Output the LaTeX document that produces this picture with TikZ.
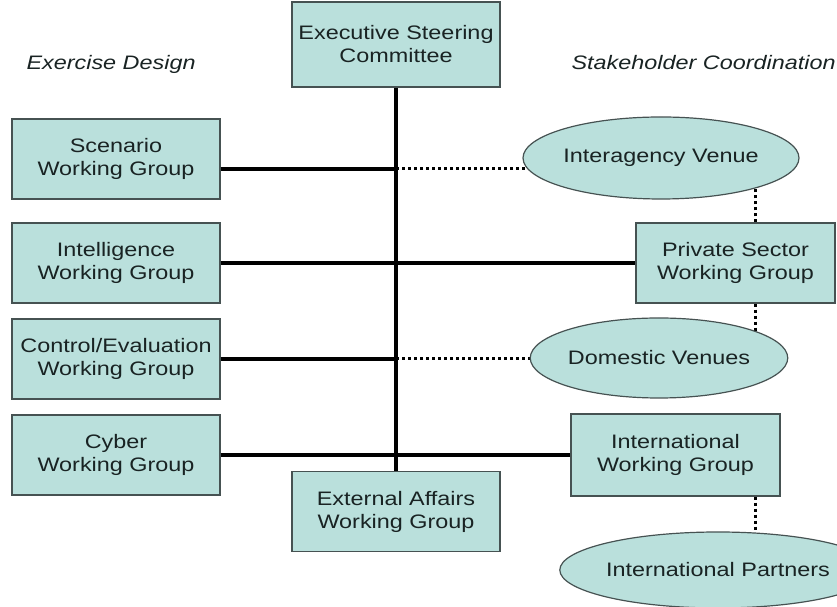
\documentclass[tikz,border=0pt]{standalone}
\usepackage{fontspec}
\setmainfont{Liberation Sans}[FakeStretch=1.2]
\usepackage{tikz}
\usetikzlibrary{shapes.geometric}
\definecolor{fundo}{RGB}{186,224,220}
\definecolor{borda}{RGB}{70,82,82}
\definecolor{texto}{RGB}{25,35,35}
\pgfdeclarelayer{fundo}
\pgfsetlayers{fundo,main}

\begin{document}
\begin{tikzpicture}[x=1pt, y=1pt,
    every node/.style={font=\fontsize{19.5}{23}\selectfont, text=texto},
    caixa/.style={draw=borda, fill=fundo, line width=1.2pt, align=center,
      minimum width=208pt, minimum height=80pt, inner sep=0pt},
    elipse/.style={ellipse, draw=borda, fill=fundo, line width=1.2pt,
      inner sep=0pt},
    linha/.style={line width=3.2pt},
    pontos/.style={line width=3pt, dash pattern=on 3pt off 3pt}]
    \useasboundingbox (0,0) rectangle (837,607);
    % títulos das colunas
    \node[anchor=base west, font=\fontsize{19.5}{23}\selectfont\itshape] (design) at (23,537) {Exercise Design};
    \node[anchor=base west, font=\fontsize{19.5}{23}\selectfont\itshape] (stake) at (568,537) {Stakeholder Coordination};
    % caixas do centro
    \node[caixa, minimum height=85pt] (exec) at (396,562.5) {Executive Steering\\Committee};
    \node[caixa] (ext) at (396,95.5) {External Affairs\\Working Group};
    % grupos da esquerda
    \node[caixa] (scen) at (116,448) {Scenario\\Working Group};
    \node[caixa] (intel) at (116,344) {Intelligence\\Working Group};
    \node[caixa] (ctrl) at (116,248) {Control/Evaluation\\Working Group};
    \node[caixa] (cyber) at (116,152) {Cyber\\Working Group};
    % grupos da direita
    \node[elipse, minimum width=244pt, minimum height=82pt] (interag) at (661,449) {Interagency Venue};
    \node[caixa, minimum width=199pt] (priv) at (735.5,344) {Private Sector\\Working Group};
    \node[elipse, minimum width=240pt, minimum height=80pt] (dom) at (659,249) {Domestic Venues};
    \node[caixa, minimum width=209pt, minimum height=82pt] (intl) at (675.5,152) {International\\Working Group};
    \node[elipse, minimum width=236pt, minimum height=76pt] (partners) at (718,37) {International Partners};
    % linha central e ligações
    \draw[linha] (exec.south) -- (ext.north);
    \coordinate (j1) at ([yshift=-10pt]scen.east -| exec.south);
    \coordinate (j3) at (ctrl.east -| exec.south);
    \draw[linha] ([yshift=-10pt]scen.east) -- (j1);
    \draw[linha] (intel.east) -- (priv.west);
    \draw[linha] (ctrl.east) -- (j3);
    \draw[linha] (cyber.east) -- (intl.west);
    % ligações pontilhadas (atrás das elipses)
    \coordinate (v1) at ([xshift=19.5pt]priv.north);
    \coordinate (v2) at ([xshift=19.5pt]priv.south);
    \coordinate (v3) at ([xshift=79.5pt]intl.south);
    \begin{pgfonlayer}{fundo}
      \draw[pontos] (j1) -- (j1 -| interag.center);
      \draw[pontos] (j3) -- (j3 -| dom.center);
      \draw[pontos] (v1) -- (v1 |- interag.center);
      \draw[pontos] (v2) -- (v2 |- dom.center);
      \draw[pontos] (v3) -- (v3 |- partners.center);
    \end{pgfonlayer}
  \end{tikzpicture}
\end{document}
